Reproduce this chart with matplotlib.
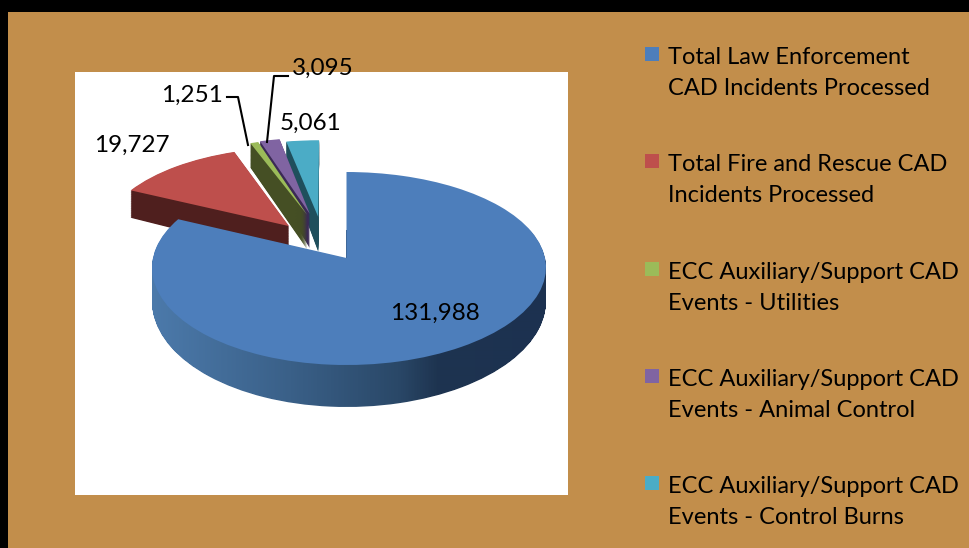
import numpy as np
import matplotlib
matplotlib.use("Agg")
import matplotlib.pyplot as plt
from matplotlib.colors import LinearSegmentedColormap
from matplotlib.patches import Rectangle
from matplotlib.path import Path
from matplotlib.transforms import Transform

categories = ["Total Law Enforcement\nCAD Incidents Processed",
              "Total Fire and Rescue CAD\nIncidents Processed",
              "ECC Auxiliary/Support CAD\nEvents - Utilities",
              "ECC Auxiliary/Support CAD\nEvents - Animal Control",
              "ECC Auxiliary/Support CAD\nEvents - Control Burns"]
values = [131988, 19727, 1251, 3095, 5061]

explode = [0, 0.47, 0.50, 0.50, 0.45]
nudge_x = [0, 3, -8, -13, -20]
depth_scale = [1, 1.05, 1.2, 1.2, 1.2]
top_colors = ["#4D7EBB", "#BE4F4C", "#9BBB59", "#8064A2", "#4BACC6"]
wall_colors = ["#2B4A6C", "#4F1F1E", "#454F24", "#3B2A55", "#1F4F5C"]
slice_order = [0.4, 0.7, 0.6, 0.5, 0.4]
TAN = "#C28E4B"
FONT = "Lato"
N_LAYERS = 44


class Tilt(Transform):
    """Oblique view of the pie plane; t=0 is the top face, t=1 the base."""
    input_dims = output_dims = 2
    is_separable = False
    has_inverse = False

    def __init__(self, t=0.0, dx=0.0):
        super().__init__()
        self.t = t
        self.dx = dx

    def transform_non_affine(self, values):
        values = np.asarray(values, float)
        x, y = values[:, 0], values[:, 1]
        px = 346.5 + self.dx + (196.0 + 2.5 * x) * x * (1 - 0.10 * y)
        py = 258.0 - 96.5 * y + 10.5 * y ** 2 + self.t * (33.0 - 9.0 * y)
        return np.column_stack([px, py])


fig = plt.figure(figsize=(9.7, 5.48), dpi=100, facecolor=TAN)
ax = fig.add_axes([0, 0, 1, 1])

ax.add_patch(Rectangle((0, 0), 970, 11.5, fc="black", lw=0, zorder=0))
ax.add_patch(Rectangle((0, 0), 8, 548, fc="black", lw=0, zorder=0))
ax.add_patch(Rectangle((75, 72), 493, 423, fc="white", lw=0, zorder=0.5))

blue_layers = []
for t in np.linspace(1, 0, N_LAYERS):
    wedges, _ = ax.pie(values, explode=explode, startangle=90, counterclock=False,
                       wedgeprops={"linewidth": 0})
    for i, w in enumerate(wedges):
        tr = Tilt(t * depth_scale[i], nudge_x[i])
        w.set_transform(tr + ax.transData)
        if i == 0:
            if t > 0:
                blue_layers.append(tr.transform_path(w.get_path()))
                w.remove()
            else:
                w.set_facecolor(top_colors[0])
                w.set_zorder(4)
        else:
            w.set_facecolor(top_colors[i] if t == 0 else wall_colors[i])
            w.set_zorder(2 + slice_order[i])

shade = LinearSegmentedColormap.from_list(
    "side", [(0, "#4C7AAB"), (0.35, "#3A6088"), (0.62, "#2A4868"), (0.72, "#1E3450"), (1, "#1C3150")])
im = ax.imshow(np.linspace(0, 1, 400)[None, :], cmap=shade, extent=(150, 550, 412, 230),
               aspect="auto", interpolation="bilinear", zorder=3)
im.set_clip_path(Path.make_compound_path(*blue_layers), ax.transData)

label_xy = [(435, 313), (132, 145), (192, 95), (323, 68), (311, 123)]
for v, (lx, ly) in zip(values, label_xy):
    ax.text(lx, ly, f"{v:,}", ha="center", va="center", fontsize=17.5, family=FONT,
            color="black", zorder=6)

ax.plot([227, 238, 248], [97, 97, 145], color="black", lw=1.5, zorder=5)
ax.plot([288, 274, 267], [76, 76, 142], color="black", lw=1.5, zorder=5)

for i, cat in enumerate(categories):
    y0 = 47 + 107.3 * i
    ax.add_patch(Rectangle((645, y0), 14, 14, fc=top_colors[i], lw=0, zorder=5))
    ax.text(668, y0, cat, ha="left", va="top", fontsize=17, family=FONT,
            color="black", linespacing=1.6, zorder=6)

ax.set_aspect("auto")
ax.set_xlim(0, 970)
ax.set_ylim(548, 0)
ax.axis("off")
fig.savefig("out.png", dpi=100, facecolor=TAN)
